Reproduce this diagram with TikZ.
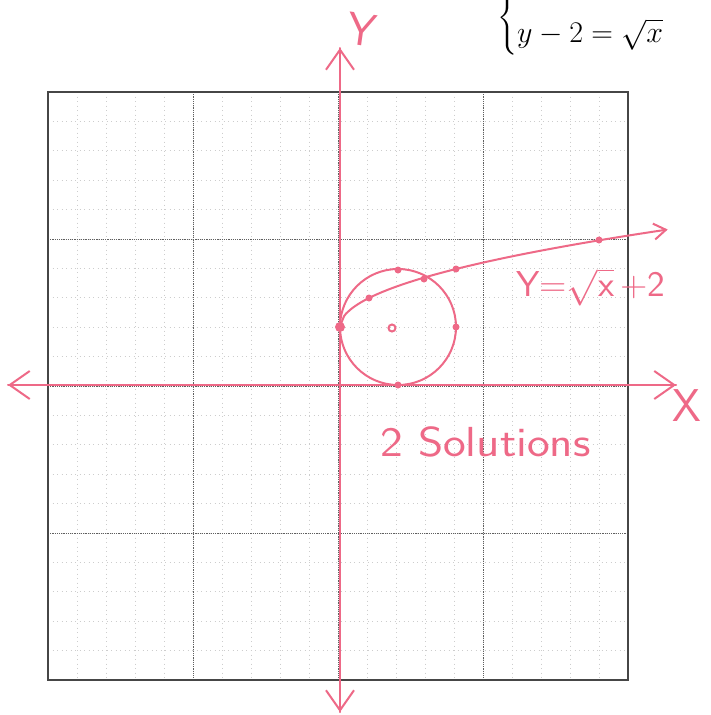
\documentclass[tikz,border=0pt]{standalone}
\usepackage{fix-cm}
\usepackage{amsmath}
\usetikzlibrary{arrows.meta}
\definecolor{pen}{RGB}{238,105,135}
\definecolor{gridminor}{RGB}{205,205,205}
\definecolor{gridmajor}{RGB}{95,95,95}
\definecolor{border}{RGB}{70,70,70}
\begin{document}
\begin{tikzpicture}[x=1pt,y=-1pt,
  penline/.style={draw=pen, line width=2pt, line cap=round, line join=round},
  barb/.style={-{Straight Barb[length=20pt,width=28pt,line width=2pt]}},
  smallbarb/.style={-{Straight Barb[length=12pt,width=16pt,line width=2pt]}},
  minorline/.style={draw=gridminor, line width=0.7pt, dash pattern=on 1pt off 3.5pt},
  majorline/.style={draw=gridmajor, line width=1pt, dash pattern=on 1.2pt off 1pt},
  dotmark/.style={circle, fill=pen, inner sep=0pt, minimum size=7pt},
  hand/.style={text=pen, font=\sffamily\fontsize{30}{34}\selectfont, inner sep=0pt}]
\useasboundingbox (0,0) rectangle (711,715);
\fill[white] (0,0) rectangle (711,715);
% grid
\foreach \k in {1,...,19}{
  \draw[minorline] ({48+29*\k},92) -- ({48+29*\k},680);
  \draw[minorline] (48,{92+29.4*\k}) -- (628,{92+29.4*\k});
}
\foreach \k in {5,10,15}{
  \draw[majorline] ({48+29*\k},92) -- ({48+29*\k},680);
  \draw[majorline] (48,{92+29.4*\k}) -- (628,{92+29.4*\k});
}
\draw[border, line width=1.3pt] (48,92) rectangle (628,680);
% system of equations (top line cut by the page edge)
\node[anchor=south west, inner sep=0pt] (sys) at (497,55)
  {\fontsize{30}{36}\selectfont $\left\{\begin{array}{@{}l}\vphantom{(x-2)^2}\\ y-2=\sqrt{x}\end{array}\right.$};
% axes
\coordinate (xl) at (8,385);
\coordinate (xr) at (676,385);
\coordinate (yt) at (340,48);
\coordinate (yb) at (340,712);
\draw[penline, barb] (xr) -- (xl);
\draw[penline, barb] (xl) -- (xr);
\draw[penline, barb] (yb) -- (yt);
\draw[penline, barb] (yt) -- (yb);
% circle (x-2)^2+(y-2)^2=4
\coordinate (c) at (398,327);
\draw[penline] (c) circle[radius=58];
% y = sqrt(x)+2
\draw[penline, smallbarb] plot[domain=0:11.3, samples=80, smooth]
  ({340+29*\x}, {385-29*(sqrt(\x)+2)});
% dots
\node[dotmark, minimum size=10pt] (p0) at (340,327) {};
\node[dotmark] (p1) at (369,298) {};
\node[dotmark] (p4) at (456,269) {};
\node[dotmark] (p9) at (599,240) {};
\node[dotmark] (ct) at (398,270) {};
\node[dotmark] (cb) at (398,385) {};
\node[dotmark] (cr) at (456,327) {};
\node[dotmark] (pi) at (424,279) {};
\node[circle, draw=pen, line width=2pt, inner sep=0pt, minimum size=7pt] (cc) at (392,328) {};
% labels
\node[hand, font=\sffamily\fontsize{46}{50}\selectfont, rotate=-8] (ylab) at (362,30) {Y};
\node[hand, font=\sffamily\fontsize{46}{50}\selectfont, anchor=west] (xlab) at (672,406) {X};
\node[hand, anchor=west, font=\sffamily\fontsize{36}{40}\selectfont] (flab) at (516,287) {\scalebox{1.04}[1]{Y=$\sqrt{\mathsf{x}}$\,+2}};
\node[hand, anchor=west, font=\sffamily\fontsize{42}{46}\selectfont] (sol) at (380,442) {\scalebox{1.15}[1]{2 Solutions}};
\end{tikzpicture}
\end{document}
